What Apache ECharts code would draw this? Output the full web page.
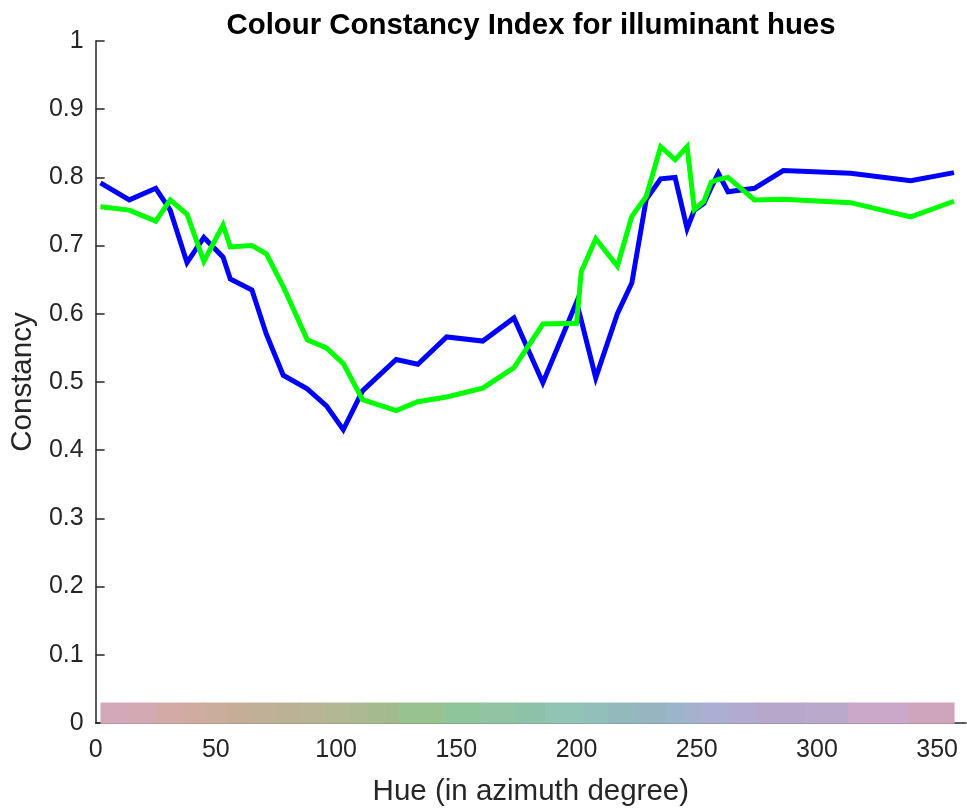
<!DOCTYPE html>
<html>
<head>
<meta charset="utf-8">
<script src="https://cdn.jsdelivr.net/npm/echarts@6/dist/echarts.min.js"></script>
<style>
html,body{margin:0;padding:0;background:#fff;}
#chart{width:967px;height:812px;}
</style>
</head>
<body>
<div id="chart"></div>
<script>
// Hue samples (azimuth degrees)
const hues = [2, 14, 25, 31, 38, 45, 53, 56, 65, 71, 78, 88, 96, 103, 111, 125, 134, 146, 161, 174, 186, 200, 202, 208, 217, 223, 229, 235, 241, 246, 249, 253, 256, 259, 263, 274, 286, 314, 339, 357];
// Constancy index, blue series
const blueValues = [0.792, 0.767, 0.784, 0.752, 0.675, 0.712, 0.683, 0.651, 0.635, 0.570, 0.510, 0.490, 0.465, 0.430, 0.487, 0.533, 0.526, 0.566, 0.560, 0.594, 0.499, 0.617, 0.590, 0.506, 0.600, 0.645, 0.768, 0.798, 0.800, 0.725, 0.752, 0.762, 0.785, 0.806, 0.779, 0.784, 0.810, 0.806, 0.795, 0.807];
// Constancy index, green series
const greenValues = [0.757, 0.752, 0.736, 0.767, 0.746, 0.677, 0.730, 0.698, 0.700, 0.688, 0.640, 0.562, 0.550, 0.527, 0.474, 0.458, 0.471, 0.478, 0.491, 0.521, 0.585, 0.586, 0.662, 0.710, 0.670, 0.743, 0.772, 0.845, 0.826, 0.845, 0.753, 0.765, 0.793, 0.797, 0.800, 0.767, 0.768, 0.763, 0.742, 0.765];
// Hue colour strip: band edges and colours
const stripEdges = [2, 14, 25, 37, 45, 55, 65, 75, 85, 95, 105, 113, 120, 126, 145, 160, 175, 187, 203, 213, 225, 237, 245, 252, 263, 275, 295, 313, 338, 357];
const stripColors = ['#d3a8b8', '#d3a9b3', '#d4aaa6', '#d0aba0', '#cbad9c', '#c5ae98', '#c0b097', '#bbb296', '#b7b595', '#b3b894', '#adb992', '#a6ba8f', '#a3b98e', '#98c391', '#8fc59a', '#90c4a2', '#8dc1a8', '#91c4b5', '#93bfba', '#93b9bc', '#97b5c0', '#9bb6ca', '#a4b2cd', '#abafd3', '#b2aad0', '#b7a8cb', '#baa9cb', '#cba7c9', '#cfa5bc'];
const yTicks = [0, 0.1, 0.2, 0.3, 0.4, 0.5, 0.6, 0.7, 0.8, 0.9, 1];
const xTicks = [0, 50, 100, 150, 200, 250, 300, 350];

const STRIP_TOP = 0.03;
const axisColor = '#262626';
const font = 'Liberation Sans, Arial, Helvetica, sans-serif';

const chart = echarts.init(document.getElementById('chart'), null, {renderer: 'canvas'});
chart.setOption({
  animation: false,
  backgroundColor: '#ffffff',
  title: {
    text: 'Colour Constancy Index for illuminant hues',
    left: 526,
    textAlign: 'center',
    top: 6,
    textStyle: {fontFamily: font, fontSize: 29.4, fontWeight: 'bold', color: '#000'}
  },
  grid: {left: 95, right: 1, top: 41, bottom: 88, containLabel: false},
  xAxis: {
    type: 'value', min: 0, max: 362, interval: 50,
    name: 'Hue (in azimuth degree)', nameLocation: 'middle', nameGap: 54,
    nameTextStyle: {fontFamily: font, fontSize: 29.5, color: axisColor},
    axisLine: {show: true, onZero: false, lineStyle: {color: axisColor, width: 1.5}},
    axisTick: {show: false},
    splitLine: {show: false},
    axisLabel: {
      fontFamily: font, fontSize: 25, color: axisColor, margin: 15,
      showMaxLabel: false,
      formatter: v => xTicks.indexOf(v) >= 0 ? String(v) : ''
    }
  },
  yAxis: {
    type: 'value', min: 0, max: 1, interval: 0.1,
    name: 'Constancy', nameLocation: 'middle', nameGap: 54, nameRotate: 90,
    nameTextStyle: {fontFamily: font, fontSize: 29.5, color: axisColor},
    axisLine: {show: true, lineStyle: {color: axisColor, width: 1.5}},
    axisTick: {show: true, inside: true, length: 9, lineStyle: {color: axisColor, width: 1.5}},
    splitLine: {show: false},
    axisLabel: {
      fontFamily: font, fontSize: 25, color: axisColor, margin: 12,
      formatter: v => {
        const t = yTicks.find(k => Math.abs(k - v) < 1e-9);
        return t === undefined ? '' : String(t);
      }
    }
  },
  series: [
    {
      type: 'custom',
      silent: true,
      z: 1,
      encode: {x: [0, 1]},
      data: stripColors.map((c, i) => [stripEdges[i], stripEdges[i + 1], i]),
      renderItem: function (params, api) {
        const p0 = api.coord([api.value(0), STRIP_TOP]);
        const p1 = api.coord([api.value(1), 0]);
        return {
          type: 'rect',
          shape: {x: p0[0], y: p0[1], width: p1[0] - p0[0] + 0.6, height: p1[1] - p0[1] + 0.8},
          style: {fill: stripColors[api.value(2)]}
        };
      }
    },
    {
      type: 'line', name: 'blue', z: 3,
      data: hues.map((h, i) => [h, blueValues[i]]),
      showSymbol: false, symbol: 'none',
      lineStyle: {color: '#0000ff', width: 5, join: 'miter'}
    },
    {
      type: 'line', name: 'green', z: 4,
      data: hues.map((h, i) => [h, greenValues[i]]),
      showSymbol: false, symbol: 'none',
      lineStyle: {color: '#00ff00', width: 5, join: 'miter'}
    }
  ]
});
</script>
</body>
</html>
